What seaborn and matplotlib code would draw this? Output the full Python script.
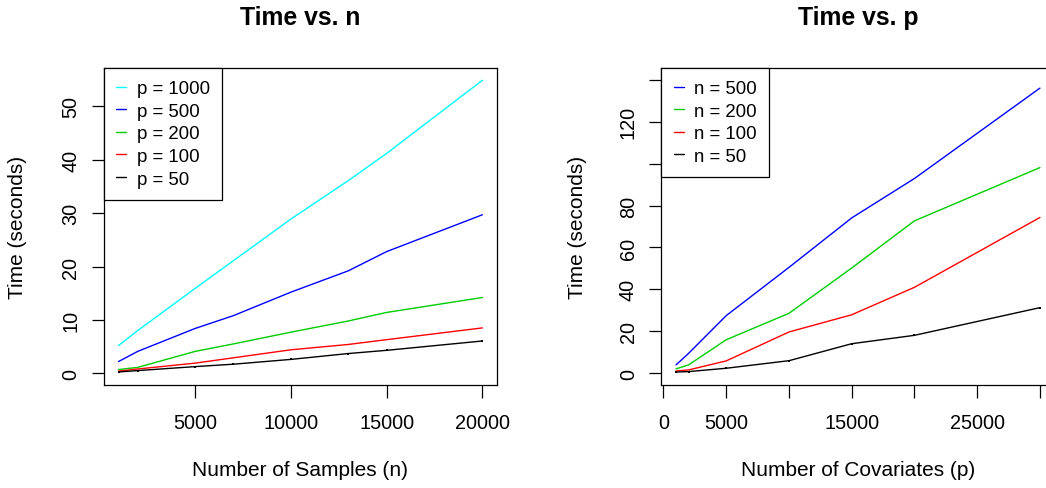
import numpy as np
import pandas as pd
import seaborn as sns
import matplotlib
matplotlib.use("Agg")
import matplotlib.pyplot as plt

# --- data ---
n_samples = [1000, 2000, 5000, 7000, 10000, 13000, 15000, 20000]
t_p1000 = [5.2, 8.0, 15.9, 21.1, 28.9, 36.1, 41.2, 54.9]
t_p500 = [2.2, 4.1, 8.4, 10.8, 15.2, 19.2, 22.8, 29.7]
t_p200 = [0.7, 1.1, 4.1, 5.5, 7.7, 9.8, 11.4, 14.2]
t_p100 = [0.4, 0.8, 1.9, 2.9, 4.4, 5.4, 6.3, 8.5]
t_p50 = [0.25, 0.5, 1.25, 1.7, 2.6, 3.7, 4.3, 6.05]

n_covariates = [1000, 2000, 5000, 10000, 15000, 20000, 30000]
t_n500 = [4.0, 9.5, 27.5, 50.5, 74.1, 92.9, 136.0]
t_n200 = [2.1, 4.0, 16.0, 28.6, 50.2, 72.7, 98.1]
t_n100 = [1.1, 1.6, 5.9, 19.7, 27.9, 41.0, 74.3]
t_n50 = [0.6, 0.8, 2.4, 6.0, 14.1, 18.1, 31.3]

labels_p = ["p = 1000", "p = 500", "p = 200", "p = 100", "p = 50"]
labels_n = ["n = 500", "n = 200", "n = 100", "n = 50"]

xticks_n = [5000, 10000, 15000, 20000]
xticks_p = [0, 5000, 10000, 15000, 20000, 25000, 30000]
xticklabels_p = ["0", "5000", "", "15000", "", "25000", ""]
yticks_n = [0, 10, 20, 30, 40, 50]
yticks_p = [0, 20, 40, 60, 80, 100, 120, 140]
yticklabels_p = ["0", "20", "40", "60", "80", "", "120", ""]

# R's default palette colours
pal_p = {"p = 1000": "#00FFFF", "p = 500": "#0000FF", "p = 200": "#00CD00",
         "p = 100": "#FF0000", "p = 50": "#000000"}
pal_n = {"n = 500": "#0000FF", "n = 200": "#00CD00",
         "n = 100": "#FF0000", "n = 50": "#000000"}


def long_frame(x, series, names, xname):
    rows = []
    for name, vals in zip(names, series):
        for xv, yv in zip(x, vals):
            rows.append({xname: xv, "time": yv, "series": name})
    return pd.DataFrame(rows)


def r_lim(lo, hi):
    # R pads axis ranges by 4% on each side
    pad = 0.04 * (hi - lo)
    return lo - pad, hi + pad


df_n = long_frame(n_samples, [t_p1000, t_p500, t_p200, t_p100, t_p50], labels_p, "n")
df_p = long_frame(n_covariates, [t_n500, t_n200, t_n100, t_n50], labels_n, "p")

sns.set_style("ticks")
plt.rcParams['font.family'] = ['Liberation Sans', 'DejaVu Sans']
plt.rcParams.update({"text.color": "black", "axes.labelcolor": "black",
                     "xtick.color": "black", "ytick.color": "black"})

fig = plt.figure(figsize=(10.46, 4.89), dpi=100)
fig.patch.set_facecolor("white")
ax1 = fig.add_axes([0.0994, 0.2106, 0.3757, 0.6483])
ax2 = fig.add_axes([0.6324, 0.2106, 0.3757, 0.6483])


def style_panel(ax, df, xname, palette, order, title, xlabel,
                xlim, ylim, xt, xtl, yt, ytl, ylab_x):
    sns.lineplot(data=df, x=xname, y="time", hue="series", hue_order=order,
                 palette=palette, sort=False, estimator=None, linewidth=1.0,
                 ax=ax)
    last = df[df["series"] == order[-1]]
    sns.scatterplot(data=last, x=xname, y="time", color="black", marker="s",
                    s=2.5, linewidth=0, legend=False, ax=ax)
    ax.set_xlim(*r_lim(*xlim))
    ax.set_ylim(*r_lim(*ylim))
    ax.set_xticks(xt)
    ax.set_xticklabels(xtl)
    ax.set_yticks(yt)
    ax.set_yticklabels(ytl, rotation=90, va="center")
    ax.tick_params(axis="both", length=9, width=0.9, colors="black",
                   labelsize=14.3, direction="out")
    ax.tick_params(axis="x", pad=11)
    ax.tick_params(axis="y", pad=8)
    for sp in ax.spines.values():
        sp.set_visible(True)
        sp.set_color("black")
        sp.set_linewidth(0.9)
    ax.set_xlabel(xlabel, fontsize=15, color="black")
    ax.set_ylabel("Time (seconds)", fontsize=15, color="black")
    ax.xaxis.set_label_coords(0.5, -0.265)
    ax.xaxis.label.set_va("center")
    ax.yaxis.set_label_coords(ylab_x, 0.5)
    ax.yaxis.label.set_va("center")
    ax.yaxis.label.set_ha("center")
    ax.set_title(title, fontsize=17.8, fontweight="bold", y=1.162, va="center",
                 pad=0, color="black")
    sns.move_legend(ax, "upper left", bbox_to_anchor=(0, 1), borderaxespad=0,
                    title=None, frameon=True, fancybox=False, framealpha=1,
                    edgecolor="black", fontsize=13.4, handlelength=0.55,
                    handletextpad=0.55, borderpad=0.65, labelspacing=0.3)
    leg = ax.get_legend()
    leg.get_frame().set_linewidth(0.9)
    for t in leg.get_texts():
        t.set_color("black")


style_panel(ax1, df_n, "n", pal_p, labels_p, "Time vs. n", "Number of Samples (n)",
            (1000, 20000), (0, 55), xticks_n, [str(v) for v in xticks_n],
            yticks_n, [str(v) for v in yticks_n], -0.219)
style_panel(ax2, df_p, "p", pal_n, labels_n, "Time vs. p", "Number of Covariates (p)",
            (1000, 30000), (0, 140), xticks_p, xticklabels_p,
            yticks_p, yticklabels_p, -0.2125)

fig.savefig("out.png", dpi=100)
plt.close(fig)
